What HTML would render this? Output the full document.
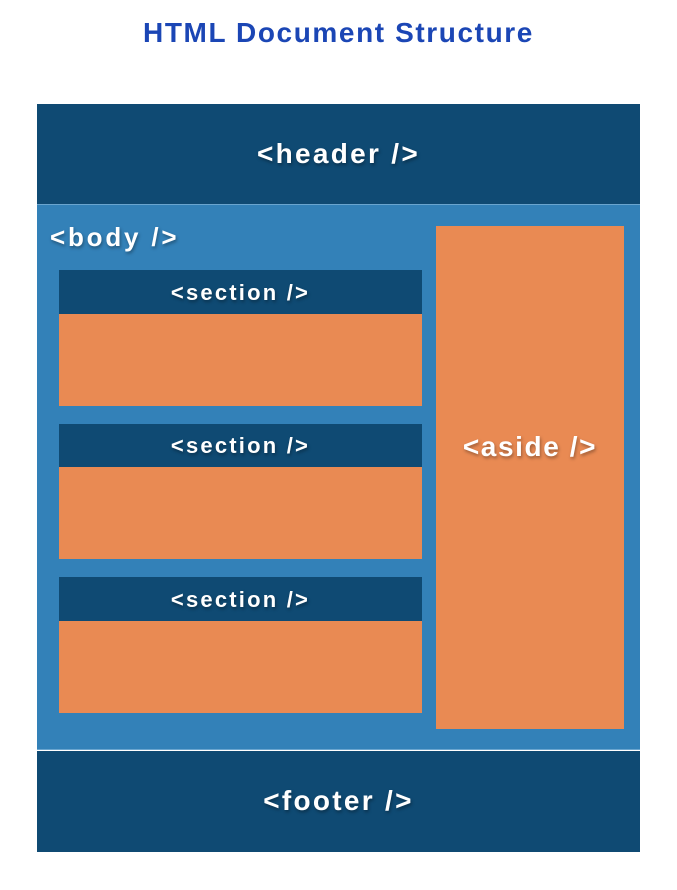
<!DOCTYPE html>
<html><head><style>
body{margin:0;width:677px;height:890px;background:#fff;position:relative;font-family:"Liberation Sans",sans-serif;overflow:hidden}
div{position:absolute;box-sizing:border-box}
.t{color:#fff;font-weight:bold;text-align:center;text-shadow:1px 2px 3px rgba(0,0,0,.35);white-space:nowrap}
.dk{background:#0f4a73}
.or{background:#e98a53}
</style></head><body>
<div style="left:0;width:677px;top:17px;text-align:center;color:#1b46b5;font-weight:bold;font-size:28px;letter-spacing:1.6px">HTML Document Structure</div>
<div class="dk" style="left:37px;top:104px;width:603px;height:100px"></div>
<div class="t" style="left:37px;top:138px;width:603px;font-size:28px;letter-spacing:2.3px">&lt;header /&gt;</div>
<div style="left:37px;top:204px;width:603px;height:546px;background:#3381b8;border-top:1px solid #6aa5cf;border-bottom:1px solid #6aa5cf"></div>
<div class="t" style="left:50px;top:222px;font-size:26px;letter-spacing:2.8px">&lt;body /&gt;</div>
<div class="dk" style="left:59px;top:270px;width:363px;height:44px"></div>
<div class="or" style="left:59px;top:314px;width:363px;height:92px"></div>
<div class="t" style="left:59px;top:280px;width:363px;font-size:22px;letter-spacing:2.2px">&lt;section /&gt;</div>
<div class="dk" style="left:59px;top:424px;width:363px;height:43px"></div>
<div class="or" style="left:59px;top:467px;width:363px;height:92px"></div>
<div class="t" style="left:59px;top:433px;width:363px;font-size:22px;letter-spacing:2.2px">&lt;section /&gt;</div>
<div class="dk" style="left:59px;top:577px;width:363px;height:44px"></div>
<div class="or" style="left:59px;top:621px;width:363px;height:92px"></div>
<div class="t" style="left:59px;top:587px;width:363px;font-size:22px;letter-spacing:2.2px">&lt;section /&gt;</div>
<div class="or" style="left:436px;top:226px;width:188px;height:503px"></div>
<div class="t" style="left:436px;top:431px;width:188px;font-size:28px;letter-spacing:1.6px">&lt;aside /&gt;</div>
<div class="dk" style="left:37px;top:751px;width:603px;height:101px"></div>
<div class="t" style="left:37px;top:785px;width:603px;font-size:28px;letter-spacing:2.3px">&lt;footer /&gt;</div>
</body></html>
